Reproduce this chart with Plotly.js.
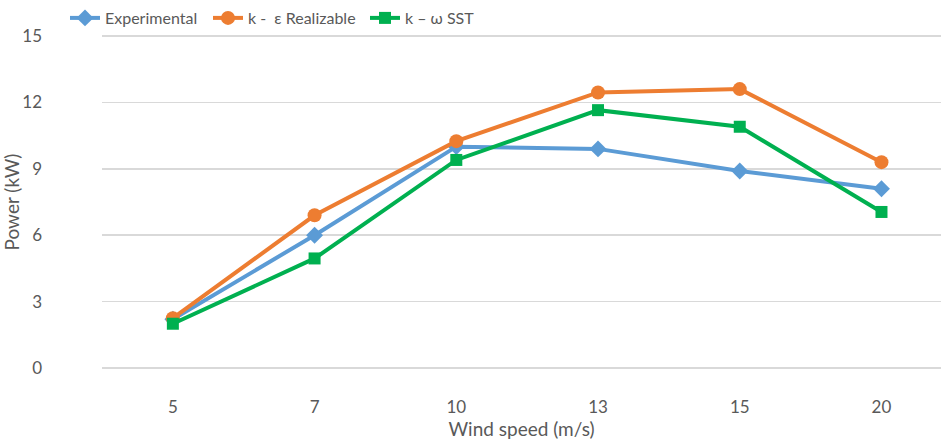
<!DOCTYPE html>
<html><head><meta charset="utf-8">
<script src="https://cdn.plot.ly/plotly-3.0.1.min.js"></script>
<style>html,body{margin:0;padding:0;background:#fff}#c{width:941px;height:444px}</style>
</head><body><div id="c"></div>
<script>
const windSpeeds = ['5','7','10','13','15','20'];
const experimental = [2.2, 6.0, 10.0, 9.9, 8.9, 8.1];
const kEpsRealizable = [2.25, 6.9, 10.25, 12.45, 12.6, 9.3];
const kOmegaSST = [2.0, 4.95, 9.4, 11.65, 10.9, 7.05];
const yTicks = [0, 3, 6, 9, 12, 15];

const font = "Lato, 'Open Sans', sans-serif";
const traces = [
  {x: windSpeeds, y: experimental, name: 'Experimental', mode: 'lines+markers',
   line: {color: '#5b9bd5', width: 4}, marker: {symbol: 'diamond', size: 13, color: '#5b9bd5'}, legend: 'legend'},
  {x: windSpeeds, y: kEpsRealizable, name: 'k -  \u03b5 Realizable', mode: 'lines+markers',
   line: {color: '#ed7d31', width: 4}, marker: {symbol: 'circle', size: 14, color: '#ed7d31'}, legend: 'legend2'},
  {x: windSpeeds, y: kOmegaSST, name: 'k \u2013 \u03c9 SST', mode: 'lines+markers',
   line: {color: '#00b050', width: 4}, marker: {symbol: 'square', size: 12, color: '#00b050'}, legend: 'legend3'}
];
const legBase = {orientation: 'h', xref: 'paper', yref: 'container', yanchor: 'middle', y: 1 - 18/444,
  font: {family: font, size: 16, color: '#595959'}, bgcolor: 'rgba(0,0,0,0)', itemwidth: 30};
const pxPerUnit = 332 / 15;
const pad = 6 / pxPerUnit;
const layout = {
  width: 941, height: 444,
  margin: {l: 102, r: 0, t: 30, b: 70, autoexpand: false},
  paper_bgcolor: '#fff', plot_bgcolor: '#fff',
  showlegend: true,
  legend: Object.assign({}, legBase, {x: (65-102)/839}),
  legend2: Object.assign({}, legBase, {x: (208-102)/839}),
  legend3: Object.assign({}, legBase, {x: (365-102)/839}),
  xaxis: {type: 'category', range: [-0.5, 5.42], showgrid: false, zeroline: false, showline: false,
    automargin: false, ticks: '', ticklabelstandoff: 21,
    tickfont: {family: font, size: 17, color: '#595959'},
    title: {text: 'Wind speed (m/s)', font: {family: font, size: 19, color: '#595959'}, standoff: 0}},
  yaxis: {range: [-pad, 15 + pad], tickvals: yTicks, showgrid: true, gridcolor: '#d9d9d9', gridwidth: 1.5,
    automargin: false, zeroline: false, showline: false, ticks: '', ticklabelstandoff: 59,
    tickfont: {family: font, size: 17, color: '#595959'},
    title: {text: 'Power (kW)', font: {family: font, size: 19, color: '#595959'}, standoff: 6}}
};
Plotly.newPlot('c', traces, layout, {displayModeBar: false, staticPlot: true});
</script></body></html>
